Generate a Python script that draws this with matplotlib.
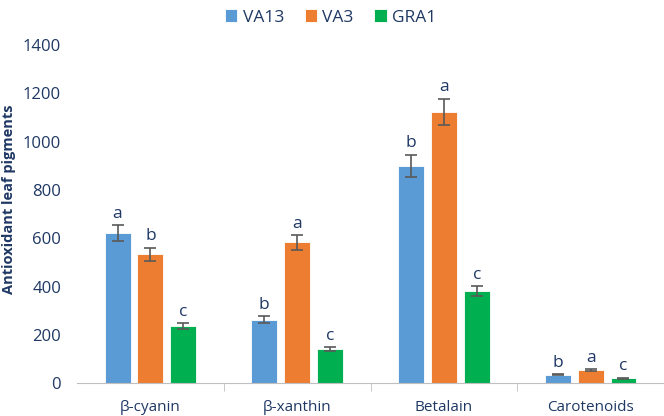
import numpy as np
import matplotlib
matplotlib.use("Agg")
import matplotlib.pyplot as plt

plt.rcParams['font.family'] = ['Open Sans', 'DejaVu Sans']

categories = ["β-cyanin", "β-xanthin", "Betalain", "Carotenoids"]
series = ["VA13", "VA3", "GRA1"]
va13 = [621, 263, 900, 35]
va3 = [533, 583, 1122, 55]
gra1 = [236, 141, 382, 20]
va13_err = [32, 13, 46, 3]
va3_err = [28, 30, 55, 4]
gra1_err = [11, 8, 20, 3]
va13_lbl = ["a", "b", "b", "b"]
va3_lbl = ["b", "a", "a", "a"]
gra1_lbl = ["c", "c", "c", "c"]

colors = ["#5B9BD5", "#ED7D31", "#00B050"]
navy = "#1F3864"

fig = plt.figure(figsize=(6.64, 4.16), dpi=100)
ax = fig.add_axes([0.116, 0.079, 0.884, 0.813])

x = np.arange(len(categories))
width = 0.177
step = 0.224
values = [va13, va3, gra1]
errs = [va13_err, va3_err, gra1_err]
lbls = [va13_lbl, va3_lbl, gra1_lbl]

for i, (vals, err, lb) in enumerate(zip(values, errs, lbls)):
    pos = x + (i - 1) * step
    ax.bar(pos, vals, width, color=colors[i], label=series[i],
           edgecolor="white", linewidth=0.6, zorder=2)
    ax.errorbar(pos, vals, yerr=err, fmt="none", ecolor="#595959",
                elinewidth=1.2, capsize=4, capthick=1.2, zorder=3)
    for p, v, e, t in zip(pos, vals, err, lb):
        ax.text(p, v + e + 14, t, ha="center", va="bottom",
                fontsize=12.5, color=navy)

ax.set_xlim(-0.5, 3.5)
ax.set_ylim(0, 1400)
ax.set_yticks(range(0, 1401, 200))
ax.set_xticks(x)
ax.set_xticklabels(categories, fontsize=11, color=navy)
ax.set_xticks([0.5, 1.5, 2.5], minor=True)
ax.tick_params(axis="x", which="major", length=0, pad=12)
ax.tick_params(axis="x", which="minor", length=6, color="#BFBFBF")
ax.tick_params(axis="y", length=0, labelsize=12, labelcolor=navy, pad=11.5)
for s in ["top", "right", "left"]:
    ax.spines[s].set_visible(False)
ax.spines["bottom"].set_color("#BFBFBF")
fig.text(9 / 664, 0.52, "Antioxidant leaf pigments", rotation=90,
         ha="center", va="center", fontsize=10.5, fontweight="bold",
         color=navy)

fig.legend(loc="upper center", bbox_to_anchor=(0.498, 1.015), ncol=3,
           frameon=False, fontsize=12.5, handlelength=0.7, handleheight=0.7,
           handletextpad=0.3, columnspacing=1.2, labelcolor=navy)

fig.savefig("out.png", dpi=100)
